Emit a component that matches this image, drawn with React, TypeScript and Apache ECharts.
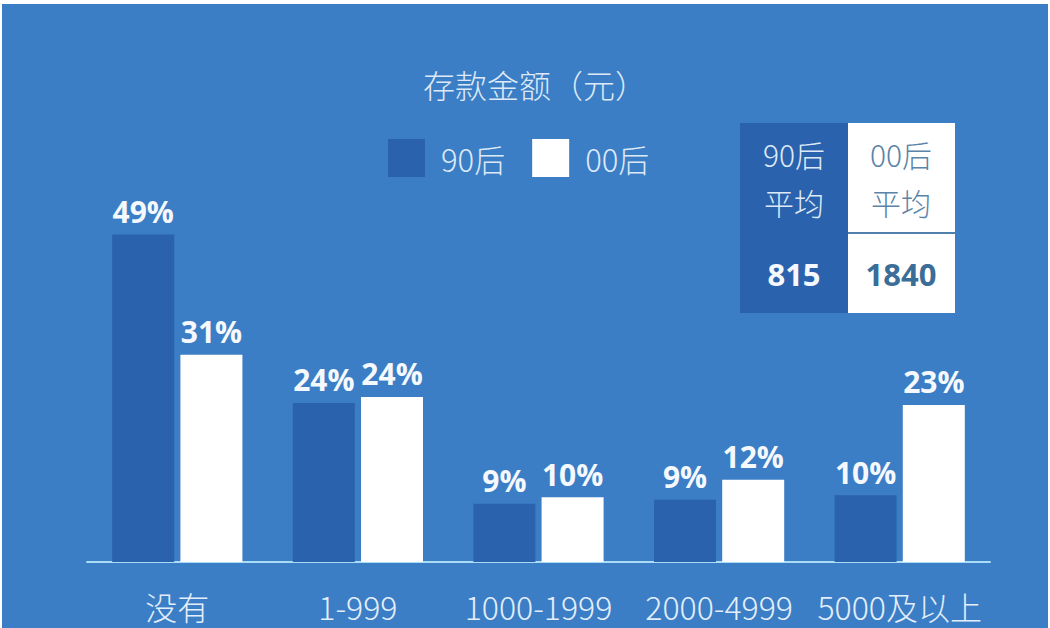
import React, { useEffect, useRef } from "react";
import * as echarts from "echarts";

const categories = ["没有", "1-999", "1000-1999", "2000-4999", "5000及以上"];
const seriesNames = ["90后", "00后"];
// bar heights (percent)
const values90 = [49, 23.8, 8.7, 9.3, 10];
const values00 = [31, 24.7, 9.7, 12.3, 23.5];
// printed labels
const labels90 = ["49%", "24%", "9%", "9%", "10%"];
const labels00 = ["31%", "24%", "10%", "12%", "23%"];
const averageHeads = ["90后\n平均", "00后\n平均"];
const averageValues = ["815", "1840"];

const bg = "#3b7ec5";
const darkBar = "#2b62ad";
const lightText = "#dde9f6";
const cjk = '"Noto Sans CJK SC", "Noto Sans", sans-serif';
const num = '"Open Sans", "Noto Sans", sans-serif';

export default function App() {
  const chartRef = useRef<HTMLDivElement | null>(null);

  useEffect(() => {
    if (!chartRef.current) return;
    const chart = echarts.init(chartRef.current, null, { renderer: "svg" });

    const barLabel = (texts: string[]) => ({
      show: true,
      position: "top",
      distance: 8,
      fontFamily: num,
      fontWeight: "bold",
      fontSize: 30,
      color: "#f5f9fd",
      formatter: (p: any) => texts[p.dataIndex],
    });

    chart.setOption({
      animation: false,
      backgroundColor: bg,
      title: {
        text: "存款金额（元）",
        left: 418,
        top: 63,
        textStyle: { fontFamily: cjk, fontWeight: 300, fontSize: 32, color: lightText },
      },
      legend: {
        left: 388,
        top: 139,
        padding: 0,
        itemWidth: 37,
        itemHeight: 38,
        itemGap: 27,
        icon: "rect",
        data: seriesNames,
        textStyle: {
          fontFamily: cjk,
          fontWeight: 300,
          fontSize: 31,
          color: lightText,
          padding: [0, 0, 0, 11],
        },
      },
      grid: { left: 87, right: 60, top: 161, bottom: 66 },
      xAxis: {
        type: "category",
        data: categories,
        axisTick: { show: false },
        axisLine: { lineStyle: { color: "#a9dcf5", width: 2 } },
        axisLabel: {
          interval: 0,
          margin: 28,
          fontFamily: cjk,
          fontWeight: 300,
          fontSize: 32,
          color: "#e3eefa",
        },
      },
      yAxis: {
        type: "value",
        min: 0,
        max: 60,
        show: false,
        splitLine: { show: false },
      },
      series: [
        {
          name: seriesNames[0],
          type: "bar",
          barWidth: 62,
          barGap: "10%",
          itemStyle: { color: darkBar },
          label: barLabel(labels90),
          data: values90,
        },
        {
          name: seriesNames[1],
          type: "bar",
          barWidth: 62,
          barGap: "10%",
          itemStyle: { color: "#ffffff" },
          label: barLabel(labels00),
          data: values00,
        },
      ],
      graphic: [
        // white edges of the original image
        { type: "rect", shape: { x: 0, y: 0, width: 1050, height: 4 }, style: { fill: "#fff" }, silent: true },
        { type: "rect", shape: { x: 0, y: 0, width: 2, height: 628 }, style: { fill: "#fff" }, silent: true },
        { type: "rect", shape: { x: 1048, y: 0, width: 2, height: 628 }, style: { fill: "#fff" }, silent: true },
        // averages table
        { type: "rect", shape: { x: 740, y: 123, width: 108, height: 190 }, style: { fill: darkBar } },
        { type: "rect", shape: { x: 848, y: 123, width: 107, height: 190 }, style: { fill: "#ffffff" } },
        {
          type: "line",
          shape: { x1: 848, y1: 233, x2: 955, y2: 233 },
          style: { stroke: "#4f80ab", lineWidth: 2 },
        },
        {
          type: "text",
          x: 794,
          y: 178,
          style: {
            text: averageHeads[0],
            align: "center",
            verticalAlign: "middle",
            fontFamily: cjk,
            fontWeight: 300,
            fontSize: 30,
            lineHeight: 48,
            fill: lightText,
          },
        },
        {
          type: "text",
          x: 901,
          y: 178,
          style: {
            text: averageHeads[1],
            align: "center",
            verticalAlign: "middle",
            fontFamily: cjk,
            fontWeight: 300,
            fontSize: 30,
            lineHeight: 48,
            fill: "#5b84a8",
          },
        },
        {
          type: "text",
          x: 794,
          y: 274,
          style: {
            text: averageValues[0],
            align: "center",
            verticalAlign: "middle",
            fontFamily: num,
            fontWeight: "bold",
            fontSize: 31,
            fill: "#f5f9fd",
          },
        },
        {
          type: "text",
          x: 901,
          y: 274,
          style: {
            text: averageValues[1],
            align: "center",
            verticalAlign: "middle",
            fontFamily: num,
            fontWeight: "bold",
            fontSize: 31,
            fill: "#3a6d98",
          },
        },
      ],
    });

    return () => chart.dispose();
  }, []);

  return (
    <div style={{ position: "fixed", left: 0, top: 0, width: 1050, height: 628 }}>
      <div ref={chartRef} style={{ width: 1050, height: 628 }} />
    </div>
  );
}
